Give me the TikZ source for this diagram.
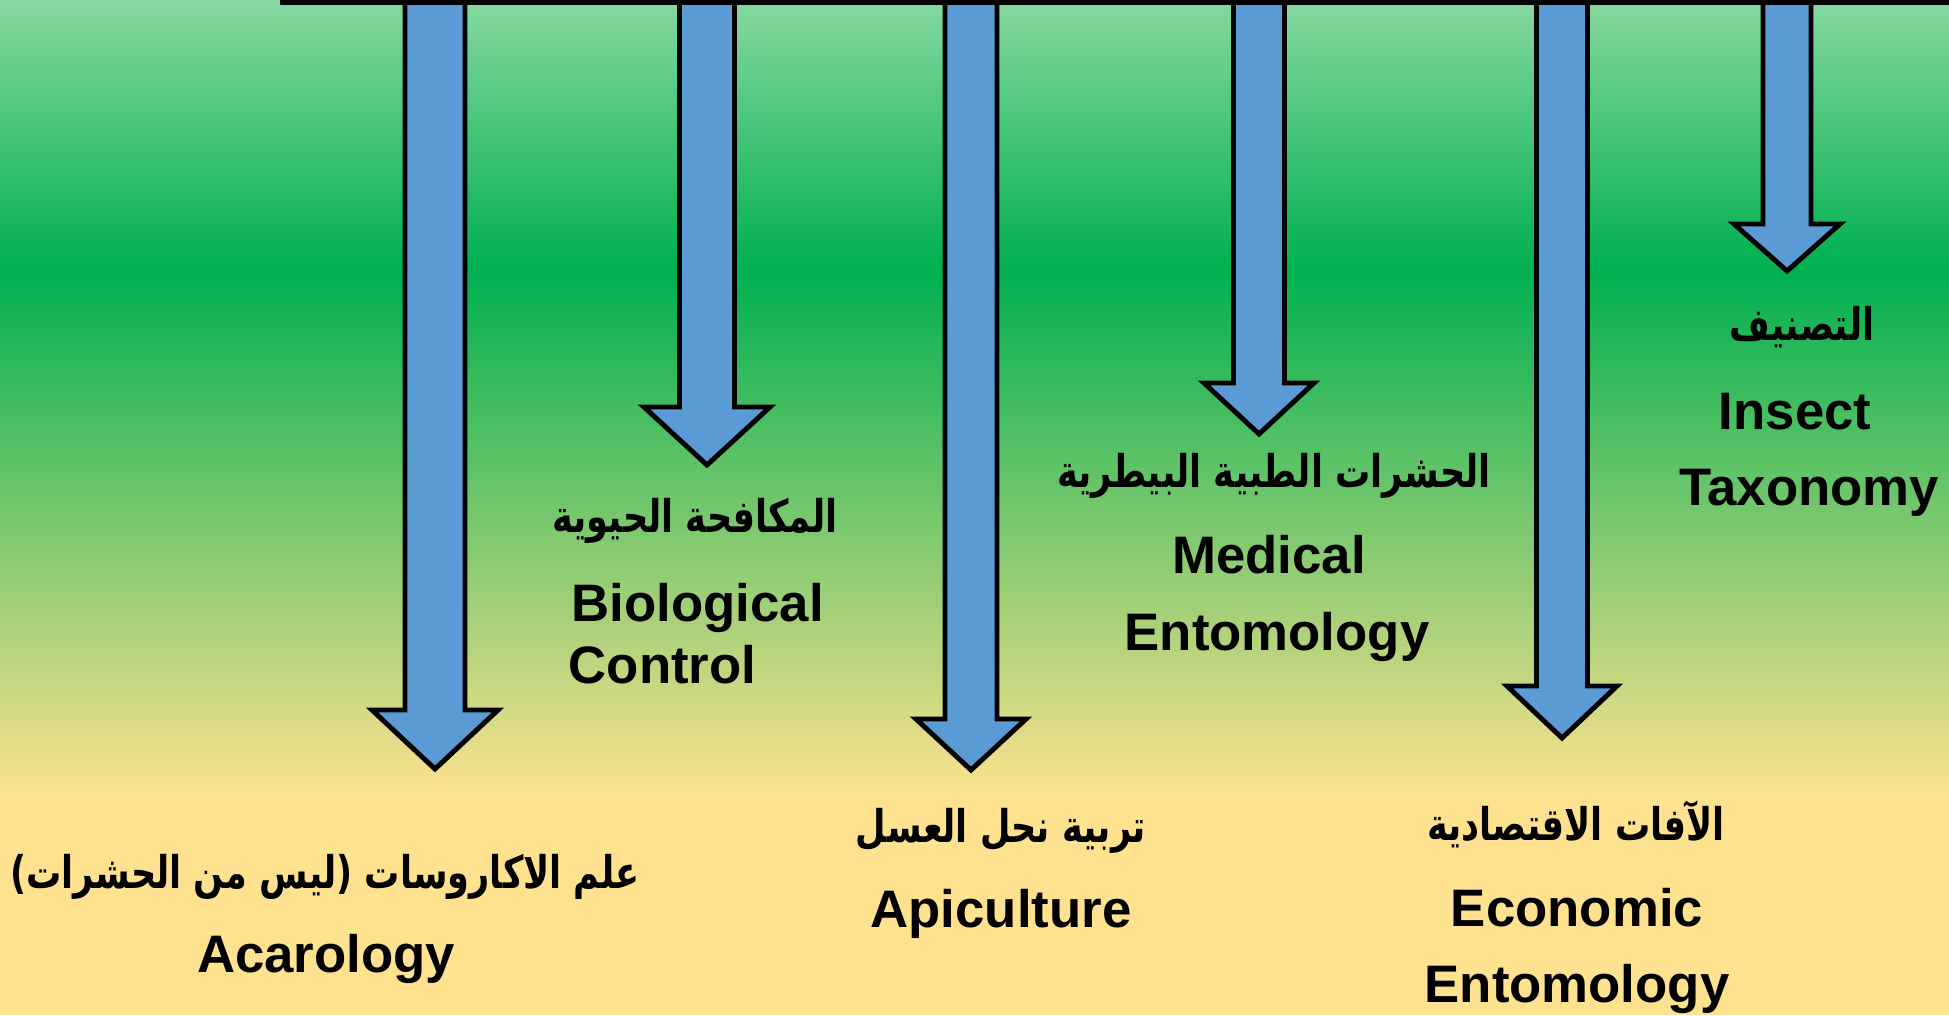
\documentclass[tikz,border=0pt]{standalone}
\usepackage{fontspec}
\usepackage{tikz}
\setmainfont{Liberation Sans}
\newfontfamily\arabicfont[Script=Arabic,FakeStretch=0.78]{DejaVu Sans}
\TeXXeTstate=1
\usetikzlibrary{positioning}

\definecolor{bgtop}{RGB}{134,216,160}
\definecolor{bggreen}{RGB}{0,176,80}
\definecolor{bgyellow}{RGB}{255,226,143}
\definecolor{arrowblue}{RGB}{91,155,213}

\tikzset{
    blockarrow/.style={fill=arrowblue,draw=black,line width=1.4pt,line join=miter},
    entext/.style={font=\bfseries\fontsize{15}{22}\selectfont,inner sep=0pt,anchor=base},
    artext/.style={font=\arabicfont\bfseries\fontsize{12.8}{16}\selectfont,inner sep=0pt,anchor=base}
}

\begin{document}
\begin{tikzpicture}[x=0.01cm,y=-0.01cm]
            \useasboundingbox (0,0) rectangle (1949,1015);
            % background
            \shade[top color=bgtop,bottom color=bggreen] (0,0) rectangle (1949,270);
            \shade[top color=bggreen,bottom color=bgyellow] (0,269) rectangle (1949,800);
            \fill[bgyellow] (0,799) rectangle (1949,1015);
            % arrows
            \filldraw[blockarrow] (405,-5) -- (405,710) -- (372,710) -- (435,769) -- (498,710) -- (465,710) -- (465,-5);
            \filldraw[blockarrow] (679.5,-5) -- (679.5,407) -- (644,407) -- (707,465) -- (770,407) -- (734.5,407) -- (734.5,-5);
            \filldraw[blockarrow] (945,-5) -- (945,719) -- (916,719) -- (971,770) -- (1026,719) -- (997,719) -- (997,-5);
            \filldraw[blockarrow] (1233.5,-5) -- (1233.5,383) -- (1204,383) -- (1259,434) -- (1314,383) -- (1284.5,383) -- (1284.5,-5);
            \filldraw[blockarrow] (1536.5,-5) -- (1536.5,686) -- (1507,686) -- (1562,738) -- (1617,686) -- (1587.5,686) -- (1587.5,-5);
            \filldraw[blockarrow] (1763,-5) -- (1763,224) -- (1734,224) -- (1787,271) -- (1840,224) -- (1811,224) -- (1811,-5);
            \draw[black,line width=1.45pt] (280,2.5) -- (1949,2.5);
            % labels
            \node[artext] (acaAr) at (325,888) {\beginR علم الاكاروسات (ليس من الحشرات)\endR};
            \node[entext] (acaEn) at (326,972) {Acarology};
            \node[artext] (bioAr) at (695,532) {\beginR المكافحة الحيوية\endR};
            \node[entext,anchor=base west] (bioEnA) at (571,621) {Biological};
            \node[entext,anchor=base west] (bioEnB) at (568,683) {Control};
            \node[artext] (apiAr) at (1001,842) {\beginR تربية نحل العسل\endR};
            \node[entext] (apiEn) at (1001,927) {Apiculture};
            \node[artext] (medAr) at (1274,487) {\beginR الحشرات الطبية البيطرية\endR};
            \node[entext] (medEnA) at (1269,573) {Medical};
            \node[entext] (medEnB) at (1277,650) {Entomology};
            \node[artext] (ecoAr) at (1576,840) {\beginR الآفات الاقتصادية\endR};
            \node[entext] (ecoEnA) at (1577,926) {Economic};
            \node[entext] (ecoEnB) at (1577,1002) {Entomology};
            \node[artext] (taxAr) at (1802,340) {\beginR التصنيف\endR};
            \node[entext] (taxEnA) at (1795,429) {Insect};
            \node[entext] (taxEnB) at (1809,505) {Taxonomy};
        \end{tikzpicture}
\end{document}
